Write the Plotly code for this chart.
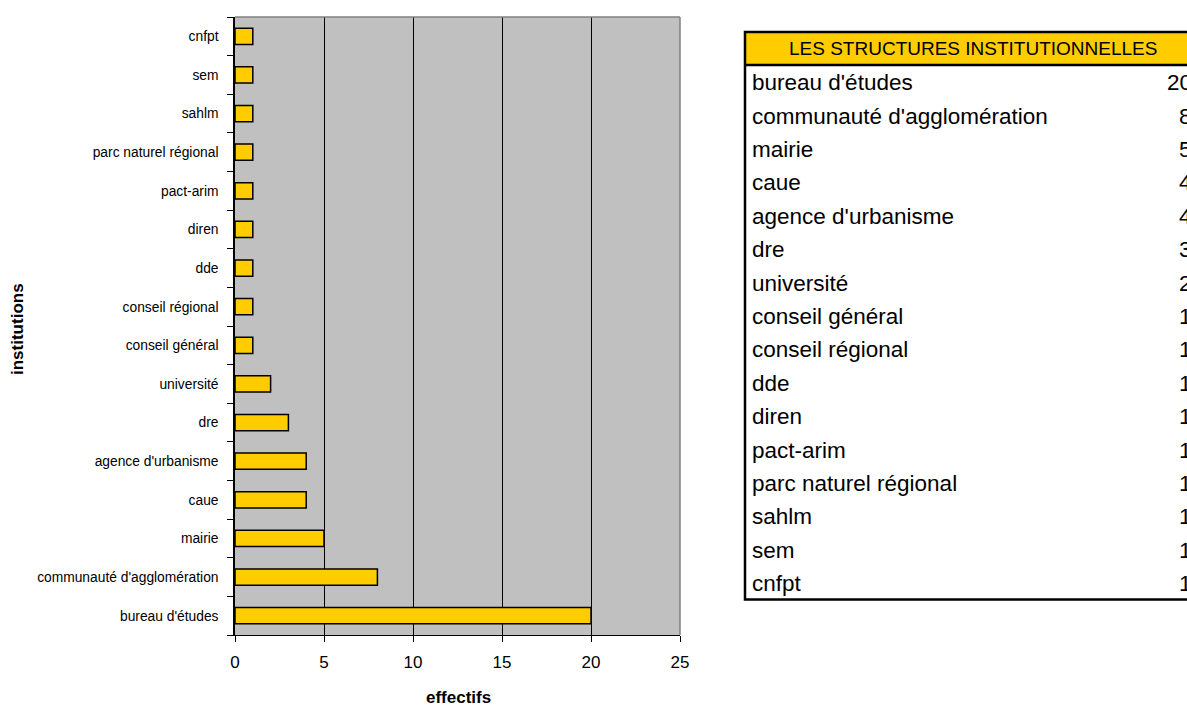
import plotly.graph_objects as go

# Institutions, listed from the bottom of the chart upward
institutions = [
    "bureau d'études", "communauté d'agglomération", "mairie", "caue",
    "agence d'urbanisme", "dre", "université", "conseil général",
    "conseil régional", "dde", "diren", "pact-arim",
    "parc naturel régional", "sahlm", "sem", "cnfpt",
]
effectifs = [20, 8, 5, 4, 4, 3, 2, 1, 1, 1, 1, 1, 1, 1, 1, 1]
x_ticks = [0, 5, 10, 15, 20, 25]
table_title = "LES STRUCTURES INSTITUTIONNELLES"

W, H = 1187, 707
L, R, T, B = 235, 680, 17, 635  # plot area in pixels

def px(x):
    return (x - L) / (R - L)

def py(y):
    return (B - y) / (B - T)

fig = go.Figure(go.Bar(
    x=effectifs, y=institutions, orientation="h",
    marker=dict(color="#ffcc00", line=dict(color="#000000", width=1.5)),
    width=0.42,
))

fig.update_layout(
    width=W, height=H,
    margin=dict(l=L, r=W - R, t=T, b=H - B, pad=0, autoexpand=False),
    paper_bgcolor="white", plot_bgcolor="#c0c0c0",
    font=dict(family="Liberation Sans, Arial, sans-serif", color="black"),
    showlegend=False,
    xaxis=dict(
        range=[0, 25], tickvals=x_ticks, ticks="outside", ticklen=6,
        tickcolor="black", tickwidth=1, showline=True, linecolor="black",
        linewidth=1, showgrid=True, gridcolor="black", gridwidth=1,
        zeroline=False, tickfont=dict(size=17), ticklabelstandoff=6,
    ),
    yaxis=dict(
        type="category", categoryorder="array", categoryarray=institutions,
        range=[-0.5, len(institutions) - 0.5],
        ticks="outside", tickson="boundaries", ticklen=6, tickcolor="black",
        showline=True, linecolor="black", linewidth=1.5, showgrid=False,
        tickfont=dict(size=13.8), ticklabelstandoff=12,
    ),
)

# gray frame on top and right of the plot area
fig.add_shape(type="line", xref="paper", yref="paper", x0=0, x1=1, y0=1, y1=1,
              line=dict(color="#808080", width=1.5))
fig.add_shape(type="line", xref="paper", yref="paper", x0=1, x1=1, y0=0, y1=1,
              line=dict(color="#808080", width=1.5))

def label(text, x, y, size, xanchor="center", angle=0):
    fig.add_annotation(text=text, xref="paper", yref="paper",
                       x=px(x), y=py(y), xanchor=xanchor, yanchor="middle",
                       showarrow=False, textangle=angle, font=dict(size=size))

# axis titles
label("<b>effectifs</b>", 458, 697, 17)
label("<b>institutions</b>", 17, 329, 17, angle=-90)

# summary table on the right
tx0, tx1 = 745, 1202
head_top, head_bot = 32, 65
row_h = 33.4
n = len(institutions)
tbl_bot = head_bot + n * row_h

fig.add_shape(type="rect", xref="paper", yref="paper",
              x0=px(tx0), x1=px(tx1), y0=py(head_bot), y1=py(head_top),
              fillcolor="#ffcc00", line=dict(width=0), layer="above")
fig.add_shape(type="rect", xref="paper", yref="paper",
              x0=px(tx0), x1=px(tx1), y0=py(tbl_bot), y1=py(head_top),
              line=dict(color="black", width=2.5), layer="above")
fig.add_shape(type="line", xref="paper", yref="paper",
              x0=px(tx0), x1=px(tx1), y0=py(head_bot), y1=py(head_bot),
              line=dict(color="black", width=2.5), layer="above")
label(table_title, 973, 48, 19)

for i, (name, val) in enumerate(zip(institutions, effectifs)):
    yc = head_bot + (i + 0.5) * row_h + 1
    label(name, tx0 + 5, yc, 22.5, xanchor="left")
    label(str(val), tx1 - 8, yc, 22.5, xanchor="right")

fig.write_html("out.html")
